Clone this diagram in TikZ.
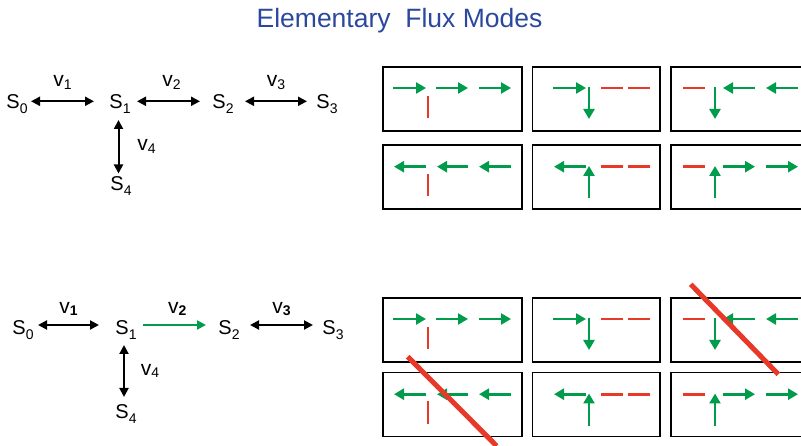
\documentclass[tikz,border=0pt]{standalone}
\usepackage{fontspec}
\setmainfont{Liberation Sans}
\usetikzlibrary{arrows.meta}
\definecolor{titleblue}{RGB}{43,72,158}
\definecolor{fluxgreen}{RGB}{0,156,76}
\definecolor{fluxred}{RGB}{232,56,40}
% species and reaction labels with a lowered subscript
\newcommand{\spc}[2]{S\raisebox{-0.5ex}{\fontsize{14}{14}\selectfont #2}}
\newcommand{\rxn}[2]{v\raisebox{-0.25ex}{\fontsize{14}{14}\selectfont #2}}
\newcommand{\rxnb}[2]{v\raisebox{-0.25ex}{\fontsize{14}{14}\selectfont\bfseries #2}}
\tikzset{
  species/.style={inner sep=0pt, font=\fontsize{20}{20}\selectfont},
  rxnlabel/.style={inner sep=0pt, text=black, font=\fontsize{21}{21}\selectfont},
  rev/.style={line width=2pt, {Triangle[length=9pt,width=9pt]}-{Triangle[length=9pt,width=9pt]}},
  irr/.style={line width=2pt, fluxgreen, -{Triangle[length=9pt,width=9pt]}},
  modebox/.style={draw=black, line width=1.8pt},
  flow/.style={line width=2.8pt, fluxgreen, -{Triangle[length=10pt,width=11pt]}},
  zero/.style={line width=2.8pt, fluxred},
  slash/.style={line width=5pt, fluxred},
}
\begin{document}
\begin{tikzpicture}[x=1pt,y=-1pt]
\useasboundingbox (0,0) rectangle (801,446);
\fill[white] (0,0) rectangle (801,446);

\node[inner sep=0pt, anchor=base, text=titleblue, font=\fontsize{26.5}{26.5}\selectfont] (title) at (399.5,28) {Elementary\ \ Flux Modes};

% ---------- network, all reactions reversible ----------
\node[species] (a0) at (17,104) {\spc S0};
\node[species] (a1) at (120,104) {\spc S1};
\node[species] (a2) at (223,104) {\spc S2};
\node[species] (a3) at (327,104) {\spc S3};
\node[species] (a4) at (121,186) {\spc S4};
\coordinate (a0r) at (31,101.3); \coordinate (a1l) at (94,101.3);
\coordinate (a1r) at (137,101.3); \coordinate (a2l) at (200,101.3);
\coordinate (a2r) at (245,101.3); \coordinate (a3l) at (307,101.3);
\coordinate (a1d) at (118.5,120); \coordinate (a4u) at (118.5,173.5);
\draw[rev] (a0r) -- (a1l) node[midway, rxnlabel, yshift=19pt] (r1) {\rxn v1};
\draw[rev] (a1r) -- (a2l) node[midway, rxnlabel, yshift=19pt, xshift=3pt] (r2) {\rxn v2};
\draw[rev] (a2r) -- (a3l) node[midway, rxnlabel, yshift=19pt] (r3) {\rxn v3};
\draw[rev] (a1d) -- (a4u) node[midway, rxnlabel, xshift=28pt] (r4) {\rxn v4};

% ---------- network with v2 irreversible ----------
\node[species] (b0) at (23,330) {\spc S0};
\node[species] (b1) at (126,330) {\spc S1};
\node[species] (b2) at (229,330) {\spc S2};
\node[species] (b3) at (333,330) {\spc S3};
\node[species] (b4) at (126,414) {\spc S4};
\coordinate (b0r) at (38,325); \coordinate (b1l) at (99,325);
\coordinate (b1r) at (142.5,325); \coordinate (b2l) at (206,325);
\coordinate (b2r) at (250,325); \coordinate (b3l) at (313,325);
\coordinate (b1d) at (124,345); \coordinate (b4u) at (124,397);
\draw[rev] (b0r) -- (b1l) node[midway, rxnlabel, yshift=16pt] (s1) {\rxnb v1};
\draw[irr] (b1r) -- (b2l) node[midway, rxnlabel, yshift=16pt, xshift=3pt] (s2) {\rxnb v2};
\draw[rev] (b2r) -- (b3l) node[midway, rxnlabel, yshift=16pt] (s3) {\rxnb v3};
\draw[rev] (b1d) -- (b4u) node[midway, rxnlabel, xshift=26pt] (s4) {\rxn v4};

% ---------- elementary modes: one set of six panels ----------
\newcommand{\modeset}[2]{%
 \begin{scope}[yshift=#1]
  % row 1
  \draw[modebox] (383,66.7) rectangle (522,131);
  \draw[modebox] (532.5,66.7) rectangle (660,131);
  \draw[modebox] (671,66.7) rectangle (810,131);
  \draw[flow] (393,88) -- (426,88);
  \draw[flow] (436,88) -- (468,88);
  \draw[flow] (479,88) -- (511,88);
  \draw[zero] (428,96) -- (428,118);
  \draw[flow] (553,88) -- (586,88);
  \draw[flow] (589,86.6) -- (589,119);
  \draw[zero] (601,88) -- (623,88);
  \draw[zero] (628,88) -- (650,88);
  \draw[zero] (683,88) -- (705,88);
  \draw[flow] (715,86.6) -- (715,119);
  \draw[flow] (755,88) -- (723,88);
  \draw[flow] (798,88) -- (766,88);
  % row 2
  \draw[modebox] (383,#2) rectangle (522,#2+64);
  \draw[modebox] (532.5,#2) rectangle (660,#2+64);
  \draw[modebox] (671,#2) rectangle (810,#2+64);
  \begin{scope}[yshift=-(#2-145)*1pt]
  \draw[flow] (426,166.7) -- (394,166.7);
  \draw[flow] (468,166.7) -- (437,166.7);
  \draw[flow] (511,166.7) -- (479,166.7);
  \draw[zero] (428,174) -- (428,196);
  \draw[flow] (586,166.7) -- (554,166.7);
  \draw[flow] (589,198) -- (589,166);
  \draw[zero] (601,166.7) -- (623,166.7);
  \draw[zero] (628,166.7) -- (650,166.7);
  \draw[zero] (683,166.7) -- (705,166.7);
  \draw[flow] (715,198) -- (715,166);
  \draw[flow] (723,166.7) -- (755,166.7);
  \draw[flow] (766,166.7) -- (798,166.7);
  \end{scope}
 \end{scope}}

\modeset{0pt}{145}
\modeset{-231pt}{141.5}

% modes excluded by the irreversible v2
\draw[slash] (690.7,284.3) -- (778.3,374.3);
\draw[slash] (407.7,356.7) -- (496.7,446);
\end{tikzpicture}
\end{document}
